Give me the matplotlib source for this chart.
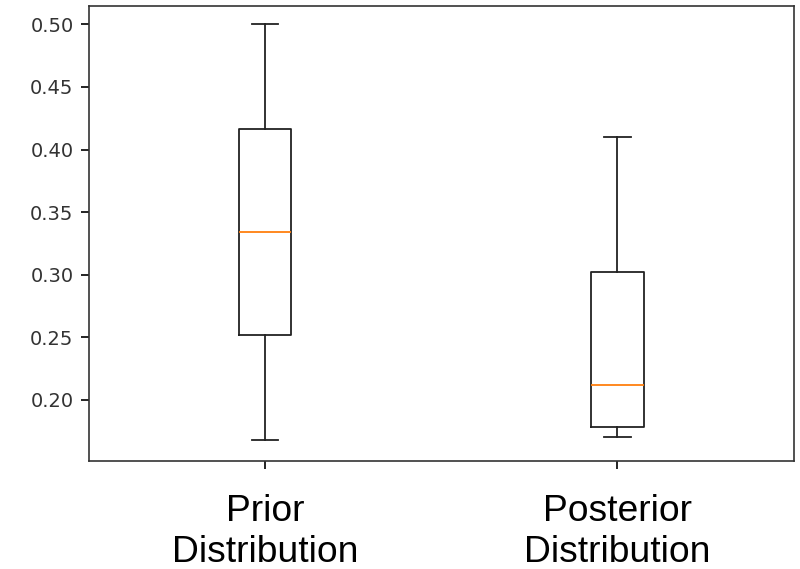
import matplotlib.pyplot as plt

# summary statistics for each distribution
labels = ['Prior\nDistribution', 'Posterior\nDistribution']
whislo = [0.168, 0.170]
q1 = [0.252, 0.178]
med = [0.334, 0.212]
q3 = [0.416, 0.302]
whishi = [0.500, 0.410]

stats = []
for i in range(len(labels)):
    stats.append(dict(label=labels[i], whislo=whislo[i], q1=q1[i], med=med[i],
                      q3=q3[i], whishi=whishi[i], fliers=[]))

fig = plt.figure(figsize=(8, 5.69), dpi=100)
ax = fig.add_axes([0.111, 0.19, 0.881, 0.80])

lw = 1.3
ax.bxp(stats,
       boxprops=dict(linewidth=lw, color='#222222'),
       whiskerprops=dict(linewidth=lw, color='#222222'),
       capprops=dict(linewidth=lw, color='#222222'),
       medianprops=dict(linewidth=lw, color='#ff7f0e'))

ax.set_ylim(0.151, 0.515)
ax.set_yticks([0.20, 0.25, 0.30, 0.35, 0.40, 0.45, 0.50])
ax.set_yticklabels(['0.20', '0.25', '0.30', '0.35', '0.40', '0.45', '0.50'])
ax.tick_params(axis='y', labelsize=14, labelcolor='#333333', length=6, width=1.2, pad=5)
ax.tick_params(axis='x', labelsize=26.8, length=6, width=1.2, pad=18)
for lab in ax.get_xticklabels():
    lab.set_fontfamily('Liberation Sans')
    lab.set_linespacing(1.22)
for s in ax.spines.values():
    s.set_linewidth(1.2)
    s.set_color('#333333')

fig.savefig('out.png', dpi=100)
